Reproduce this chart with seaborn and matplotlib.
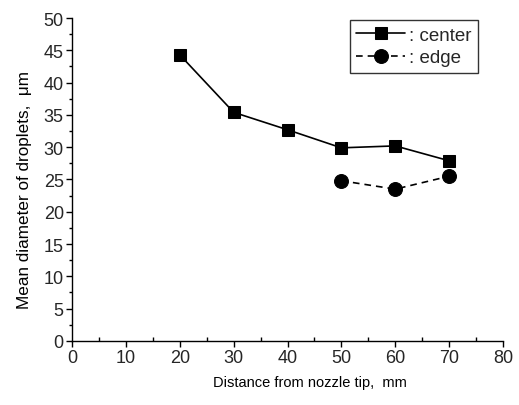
import matplotlib
matplotlib.use("Agg")
import matplotlib.pyplot as plt
import seaborn as sns
import pandas as pd
from matplotlib.ticker import MultipleLocator

center_x = [20, 30, 40, 50, 60, 70]
center_y = [44.3, 35.4, 32.7, 29.9, 30.2, 27.9]
edge_x = [50, 60, 70]
edge_y = [24.8, 23.5, 25.5]

sns.set_theme(style="ticks")
plt.rcParams['font.family'] = ['Liberation Sans', 'DejaVu Sans']

fig = plt.figure(figsize=(5.19, 4.06), dpi=100)
ax = fig.add_axes([0.139, 0.158, 0.830, 0.795])

dc = pd.DataFrame({"x": center_x, "y": center_y})
de = pd.DataFrame({"x": edge_x, "y": edge_y})

sns.lineplot(data=dc, x="x", y="y", ax=ax, color="black", marker="s",
             markersize=9, markeredgecolor="black", linewidth=1.2,
             label=": center")
sns.lineplot(data=de, x="x", y="y", ax=ax, color="black", marker="o",
             markersize=10, markeredgecolor="black", linewidth=1.2,
             linestyle=(0, (4, 3)), label=": edge")

ax.set_xlim(0, 80)
ax.set_ylim(0, 50)
ax.xaxis.set_major_locator(MultipleLocator(10))
ax.xaxis.set_minor_locator(MultipleLocator(5))
ax.yaxis.set_major_locator(MultipleLocator(5))
ax.yaxis.set_minor_locator(MultipleLocator(2.5))
ax.tick_params(axis='both', which='major', labelsize=13, length=4, width=1, color='black', pad=2)
ax.tick_params(axis='x', which='minor', direction='in', length=3, width=1, color='black')
ax.tick_params(axis='y', which='minor', direction='out', length=2.5, width=1, color='black')
for s in ["top", "right"]:
    ax.spines[s].set_visible(False)
for s in ["left", "bottom"]:
    ax.spines[s].set_color("black")
    ax.spines[s].set_linewidth(1)

ax.set_xlabel("Distance from nozzle tip,  mm", fontsize=10.5, color="black")
ax.set_ylabel("Mean diameter of droplets,  \u03bcm", fontsize=12.3, color="black")
ax.xaxis.set_label_coords(0.552, -0.106)
ax.yaxis.set_label_coords(-0.093, 0.47)

leg = ax.legend(loc="upper right", bbox_to_anchor=(0.942, 0.994), fontsize=13.5,
                frameon=True, fancybox=False, edgecolor="black",
                handlelength=2.6, handletextpad=0.2, borderpad=0.35,
                labelspacing=0.3, numpoints=1, borderaxespad=0)
leg.get_frame().set_linewidth(1)

fig.savefig("out.png", dpi=100)
